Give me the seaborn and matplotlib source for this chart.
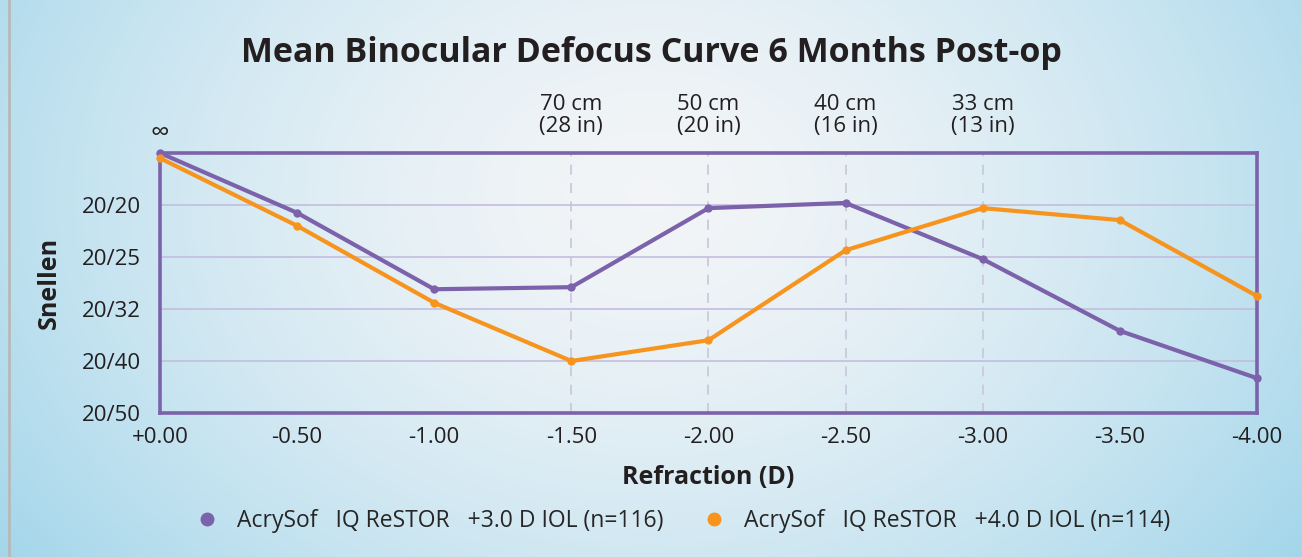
import numpy as np
import pandas as pd
import matplotlib.pyplot as plt
import seaborn as sns
from matplotlib.lines import Line2D
import matplotlib.transforms as mtransforms

# data (y in logMAR; Snellen labels on the axis)
refraction = [0.0, -0.5, -1.0, -1.5, -2.0, -2.5, -3.0, -3.5, -4.0]
restor_30 = [-0.100, 0.015, 0.162, 0.158, 0.006, -0.004, 0.104, 0.242, 0.333]
restor_40 = [-0.090, 0.040, 0.188, 0.300, 0.260, 0.087, 0.006, 0.029, 0.175]
series_names = ['AcrySof   IQ ReSTOR   +3.0 D IOL (n=116)',
                'AcrySof   IQ ReSTOR   +4.0 D IOL (n=114)']
snellen_ticks = [0.0, 0.1, 0.2, 0.3, 0.4]
snellen_labels = ['20/20', '20/25', '20/32', '20/40', '20/50']
x_ticks = [0.0, -0.5, -1.0, -1.5, -2.0, -2.5, -3.0, -3.5, -4.0]
x_labels = ['+0.00', '-0.50', '-1.00', '-1.50', '-2.00', '-2.50', '-3.00', '-3.50', '-4.00']
dist_x = [-1.5, -2.0, -2.5, -3.0]
dist_labels = ['70 cm\n(28 in)', '50 cm\n(20 in)', '40 cm\n(16 in)', '33 cm\n(13 in)']

purple = '#7b62aa'
orange = '#f7941d'
ink = '#231f20'

df = pd.DataFrame({
    'Refraction': refraction * 2,
    'logMAR': restor_30 + restor_40,
    'IOL': [series_names[0]] * len(refraction) + [series_names[1]] * len(refraction),
})

sns.set_theme(style='white')
plt.rcParams['font.family'] = ['Open Sans', 'DejaVu Sans']

fig = plt.figure(figsize=(13.02, 5.57), dpi=100)

# background gradient
bg = fig.add_axes([0, 0, 1, 1], zorder=-10)
yy, xx = np.mgrid[0:1:300j, 0:1:600j]
d = np.sqrt(((xx - 0.5) / 0.62) ** 2 + ((yy - 0.35) / 1.1) ** 2)
d = np.clip(d, 0, 1) ** 1.6
c0 = np.array([0.95, 0.96, 0.97])
c1 = np.array([0.64, 0.84, 0.92])
img = c0[None, None, :] * (1 - d[..., None]) + c1[None, None, :] * d[..., None]
bg.imshow(img, extent=[0, 1, 0, 1], aspect='auto', origin='upper')
bg.set_axis_off()
bg.plot([0.007, 0.007], [0, 1], color='#b8b8b8', lw=2, transform=bg.transAxes)

ax = fig.add_axes([0.1229, 0.2585, 0.8425, 0.4668])
ax.patch.set_alpha(0)

sns.lineplot(data=df, x='Refraction', y='logMAR', hue='IOL',
             palette=[purple, orange], marker='o', markersize=6,
             markeredgewidth=0, linewidth=3, ax=ax, legend=False, zorder=5,
             clip_on=False)

ax.set_xlim(0, -4)
ax.set_ylim(0.4, -0.1)
ax.set_yticks(snellen_ticks)
ax.set_yticklabels(snellen_labels, fontsize=16, color=ink)
ax.set_xticks(x_ticks)
ax.set_xticklabels(x_labels, fontsize=16, color=ink)
ax.tick_params(axis='x', length=0, pad=10)
ax.tick_params(axis='y', length=0, pad=14)

for v in snellen_ticks[:-1]:
    ax.axhline(v, color='#c3bde0', lw=1.2, zorder=1)
for v in dist_x:
    ax.axvline(v, color='#c8c6dc', lw=1.2, ls=(0, (6, 5)), zorder=1)

for s in ax.spines.values():
    s.set_color(purple)
    s.set_linewidth(2.6)

trans = mtransforms.blended_transform_factory(ax.transData, ax.transAxes)
for xv, lab in zip(dist_x, dist_labels):
    ax.text(xv, 1.145, lab, transform=trans, ha='center', va='center',
            fontsize=16, color=ink, linespacing=1.1)
ax.text(0.0, 1.075, '\u221e', transform=trans, ha='center', va='center',
        fontsize=19, color=ink)

ax.set_xlabel('Refraction (D)', fontsize=18, fontweight='bold', color=ink, labelpad=12)
ax.set_ylabel('Snellen', fontsize=18, fontweight='bold', color=ink, labelpad=14)

fig.text(0.5, 0.905, 'Mean Binocular Defocus Curve 6 Months Post-op',
         ha='center', va='center', fontsize=24.5, fontweight='bold', color=ink)

handles = [Line2D([], [], ls='none', marker='o', markersize=9, color=c) for c in (purple, orange)]
fig.legend(handles, series_names, loc='center', bbox_to_anchor=(0.52, 0.064), ncol=2,
           frameon=False, fontsize=16.5, handletextpad=0.3, columnspacing=1.2)

fig.savefig('out.png', dpi=100)
